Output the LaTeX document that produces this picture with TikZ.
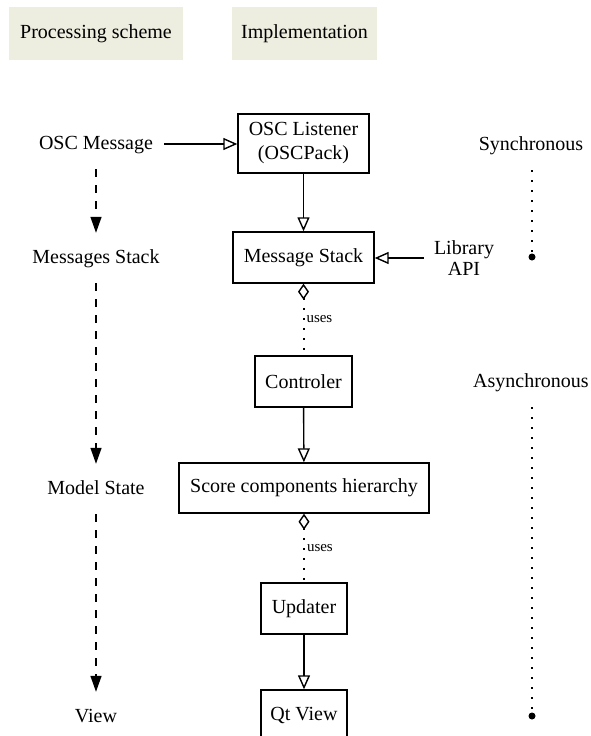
\documentclass[tikz,border=0pt]{standalone}
\usepackage{fontspec}
\setmainfont{Liberation Serif}
\usetikzlibrary{arrows.meta}
\definecolor{hdr}{RGB}{237,237,224}
\begin{document}
\begin{tikzpicture}[x=1pt,y=-1pt,
  every node/.style={font=\fontsize{20}{24}\selectfont},
  hdrbox/.style={fill=hdr, minimum height=53pt, inner sep=0pt},
  box/.style={draw, line width=1.4pt, minimum height=51pt, inner sep=0pt, align=center},
  lbl/.style={inner sep=0pt, text height=14pt, text depth=4pt},
  inh/.style={line width=1.4pt, -{Triangle[open,length=14pt,width=12pt]}},
  flow/.style={line width=1.4pt, dash pattern=on 8pt off 8pt, -{Triangle[length=16pt,width=11pt]}, shorten <=16pt, shorten >=16pt},
  useslink/.style={line width=2pt, dash pattern=on 2pt off 8pt, {Diamond[open,length=16pt,width=11pt,line width=1.4pt]}-},
  usestext/.style={font=\fontsize{15}{18}\selectfont, inner sep=2pt, right},
  timeline/.style={line width=2pt, dash pattern=on 2pt off 8pt, shorten <=16pt},
  enddot/.style={circle, fill, inner sep=0pt, minimum size=7pt}
]
\useasboundingbox (0,0) rectangle (590,736);

% headers
\node[hdrbox, minimum width=174pt] (h1) at (96,33.5) {Processing scheme};
\node[hdrbox, minimum width=145pt] (h2) at (304.5,33.5) {Implementation};

% left column
\node[lbl] (p1) at (96,144) {OSC Message};
\node[lbl] (p2) at (96,258) {Messages Stack};
\node[lbl] (p3) at (96,489) {Model State};
\node[lbl] (p4) at (96,717) {View};
\draw[flow] (p1) -- (p2);
\draw[flow] (p2) -- (p3);
\draw[flow] (p3) -- (p4);

% middle column
\node[box, minimum width=131pt, minimum height=59pt] (osc) at (303.5,143.5) {OSC Listener\\(OSCPack)};
\node[box, minimum width=141pt] (msg) at (303.5,257.5) {Message Stack};
\node[box, minimum width=97pt] (ctl) at (303.5,381.5) {Controler};
\node[box, minimum width=250pt, minimum height=50pt] (sch) at (304,488) {Score components hierarchy};
\node[box, minimum width=86pt] (upd) at (304,608.5) {Updater};
\node[box, minimum width=86pt] (qtv) at (304,715.5) {Qt View};

\node[inner sep=0pt, align=center, font=\fontsize{20}{21}\selectfont] (lib) at (464,258) {Library\\API};

\draw[inh, shorten <=11pt] (p1.east) -- (p1.east -| osc.west);
\draw[inh] (osc) -- (msg);
\draw[inh, shorten <=10pt] (lib.west) -- (lib.west -| msg.east);
\draw[useslink] (msg) -- node[usestext] {uses} (ctl);
\draw[inh] (ctl) -- (sch);
\draw[useslink] (sch) -- node[usestext] {uses} (upd);
\draw[inh] (upd) -- (qtv);

% right column
\node[lbl] (sync) at (531,145) {Synchronous};
\node[lbl] (async) at (531,382) {Asynchronous};
\node[enddot] (d1) at (532,257) {};
\node[enddot] (d2) at (532,716) {};
\draw[timeline] (d1 |- sync.south) -- (d1);
\draw[timeline] (d2 |- async.south) -- (d2);
\end{tikzpicture}
\end{document}
